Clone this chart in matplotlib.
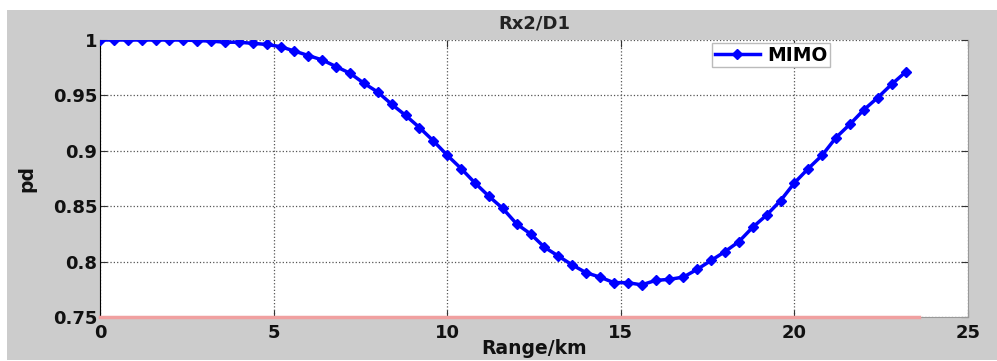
import numpy as np
import matplotlib.pyplot as plt
from matplotlib.patches import Rectangle

plt.rcParams['font.family'] = ['DejaVu Sans']

# range in km, 0.4 km steps
range_km = [0.0, 0.4, 0.8, 1.2, 1.6, 2.0, 2.4, 2.8, 3.2, 3.6,
            4.0, 4.4, 4.8, 5.2, 5.6, 6.0, 6.4, 6.8, 7.2, 7.6,
            8.0, 8.4, 8.8, 9.2, 9.6, 10.0, 10.4, 10.8, 11.2, 11.6,
            12.0, 12.4, 12.8, 13.2, 13.6, 14.0, 14.4, 14.8, 15.2, 15.6,
            16.0, 16.4, 16.8, 17.2, 17.6, 18.0, 18.4, 18.8, 19.2, 19.6,
            20.0, 20.4, 20.8, 21.2, 21.6, 22.0, 22.4, 22.8, 23.2]
pd_mimo = [1.0, 1.0, 1.0, 1.0, 1.0, 1.0, 1.0, 0.9995, 0.999, 0.998,
           0.998, 0.997, 0.996, 0.994, 0.990, 0.986, 0.982, 0.976, 0.970, 0.961,
           0.953, 0.942, 0.932, 0.921, 0.909, 0.896, 0.884, 0.871, 0.859, 0.848,
           0.834, 0.825, 0.813, 0.805, 0.797, 0.790, 0.786, 0.781, 0.781, 0.779,
           0.783, 0.784, 0.786, 0.793, 0.801, 0.809, 0.818, 0.831, 0.842, 0.855,
           0.871, 0.884, 0.896, 0.912, 0.924, 0.937, 0.948, 0.960, 0.971]
# the pink reference line along the bottom
ref_x = [0.0, 23.6]
ref_y = [0.75, 0.75]

x_ticks = [0, 5, 10, 15, 20, 25]
y_ticks = [0.75, 0.8, 0.85, 0.9, 0.95, 1.0]
y_labels = ['0.75', '0.8', '0.85', '0.9', '0.95', '1']

W, H = 997, 361
fig = plt.figure(figsize=(W / 100, H / 100), dpi=100, facecolor='white')
fig.add_artist(Rectangle((7 / W, 1 / H), 1 - 7 / W, (H - 11) / H,
                         transform=fig.transFigure, facecolor='#cccccc',
                         edgecolor='none', zorder=-10))

ax = fig.add_axes([100 / W, 1 - 317 / H, 868 / W, 277 / H])
ax.set_facecolor('white')

ax.plot(range_km, pd_mimo, '-', color='#0000ff', lw=2.5, marker='D', ms=5.5,
        label='MIMO', zorder=3)
ax.plot(ref_x, ref_y, '-', color='#f0a0a0', lw=2.5, clip_on=False, zorder=4)

ax.set_xlim(0, 25)
ax.set_ylim(0.75, 1.0)
ax.set_xticks(x_ticks)
ax.set_yticks(y_ticks)
ax.set_yticklabels(y_labels)
ax.tick_params(direction='in', length=5, top=True, right=True,
               labelsize=13, pad=2, color='#333333', labelcolor='#111111')
ax.tick_params(axis='x', pad=5)
for lab in ax.get_xticklabels() + ax.get_yticklabels():
    lab.set_fontweight('bold')
ax.grid(True, linestyle=':', color='#555555', lw=0.9)

ax.spines['left'].set_color('black')
ax.spines['bottom'].set_color('#999999')
ax.spines['top'].set_visible(False)
ax.spines['right'].set_color('#999999')

ax.set_title('Rx2/D1', fontsize=13, fontweight='bold', pad=8, color='#222222')
ax.set_xlabel('Range/km', fontsize=13.5, fontweight='bold', labelpad=-2,
              color='#111111')
ax.set_ylabel('pd', fontsize=13.5, fontweight='bold', labelpad=12,
              color='#111111')

leg = ax.legend(loc='upper left', bbox_to_anchor=(0.705, 0.99),
                prop={'weight': 'bold', 'size': 13.5}, fancybox=False,
                framealpha=1, handlelength=2.4, borderpad=0.15,
                handletextpad=0.4, borderaxespad=0)
leg.get_frame().set_edgecolor('#bbbbbb')
leg.get_frame().set_linewidth(1.0)

fig.savefig('out.png', dpi=100)
